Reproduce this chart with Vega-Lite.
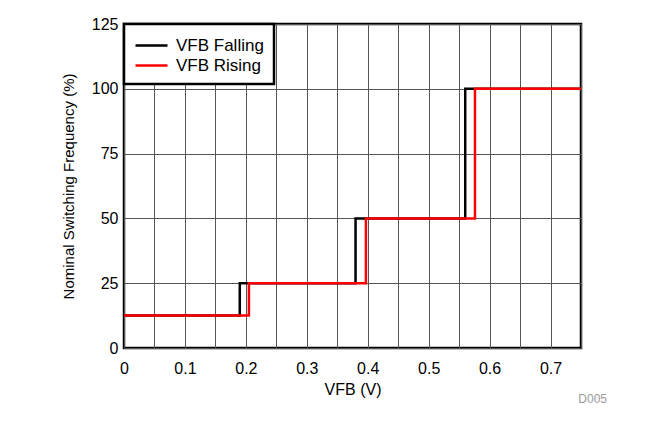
{
  "$schema": "https://vega.github.io/schema/vega-lite/v6.json",
  "width": 457,
  "height": 324,
  "autosize": "none",
  "padding": {"left": 124, "top": 24, "right": 83, "bottom": 90},
  "background": "white",
  "config": {
    "font": "Liberation Sans",
    "view": {"stroke": "black", "strokeWidth": 2.5},
    "axis": {"labelFont": "Liberation Sans", "titleFont": "Liberation Sans", "labelColor": "black", "titleColor": "black", "titleFontWeight": "normal"},
    "legend": {"strokeWidth": 2.5, "strokeColor": "black", "fillColor": "white"}
  },
  "title": {
    "text": "D005",
    "orient": "bottom",
    "anchor": "end",
    "color": "#999999",
    "fontSize": 12,
    "fontWeight": "normal",
    "font": "Liberation Sans",
    "dx": 21,
    "offset": -3
  },
  "data": {
    "values": [
      {"vfb": 0, "freq": 12.5, "series": "VFB Falling"},
      {"vfb": 0.19, "freq": 25, "series": "VFB Falling"},
      {"vfb": 0.38, "freq": 50, "series": "VFB Falling"},
      {"vfb": 0.56, "freq": 100, "series": "VFB Falling"},
      {"vfb": 0.75, "freq": 100, "series": "VFB Falling"},
      {"vfb": 0, "freq": 12.5, "series": "VFB Rising"},
      {"vfb": 0.205, "freq": 25, "series": "VFB Rising"},
      {"vfb": 0.397, "freq": 50, "series": "VFB Rising"},
      {"vfb": 0.576, "freq": 100, "series": "VFB Rising"},
      {"vfb": 0.75, "freq": 100, "series": "VFB Rising"}
    ]
  },
  "mark": {"type": "line", "interpolate": "step-after", "strokeWidth": 2.5},
  "encoding": {
    "x": {
      "field": "vfb",
      "type": "quantitative",
      "scale": {"domain": [0, 0.75], "nice": false, "zero": false},
      "axis": {
        "title": "VFB (V)",
        "values": [0, 0.05, 0.1, 0.15, 0.2, 0.25, 0.3, 0.35, 0.4, 0.45, 0.5, 0.55, 0.6, 0.65, 0.7, 0.75],
        "labelExpr": "round(datum.value*20) % 2 == 0 ? format(datum.value, '.1~f') : ''",
        "labelFlush": false,
        "ticks": false,
        "tickSize": 0,
        "domain": false,
        "grid": true,
        "gridColor": "#555555",
        "gridWidth": 1,
        "gridOpacity": 1,
        "labelFontSize": 16,
        "labelPadding": 12,
        "titleFontSize": 16,
        "titlePadding": 5
      }
    },
    "y": {
      "field": "freq",
      "type": "quantitative",
      "scale": {"domain": [0, 125], "nice": false},
      "axis": {
        "title": "Nominal Switching Frequency (%)",
        "values": [0, 25, 50, 75, 100, 125],
        "labelFlush": false,
        "ticks": false,
        "tickSize": 0,
        "domain": false,
        "grid": true,
        "gridColor": "#555555",
        "gridWidth": 1,
        "gridOpacity": 1,
        "labelFontSize": 16,
        "labelPadding": 6,
        "titleFontSize": 15,
        "titlePadding": 15
      }
    },
    "color": {
      "field": "series",
      "type": "nominal",
      "scale": {"domain": ["VFB Falling", "VFB Rising"], "range": ["black", "#ff0000"]},
      "legend": {
        "title": null,
        "orient": "top-left",
        "offset": 0,
        "symbolType": "M-1,0H2.2",
        "symbolSize": 400,
        "symbolStrokeWidth": 2.5,
        "labelFontSize": 17,
        "labelFont": "Liberation Sans",
        "labelColor": "black",
        "padding": 10,
        "rowPadding": -1,
        "labelOffset": 19
      }
    }
  }
}
